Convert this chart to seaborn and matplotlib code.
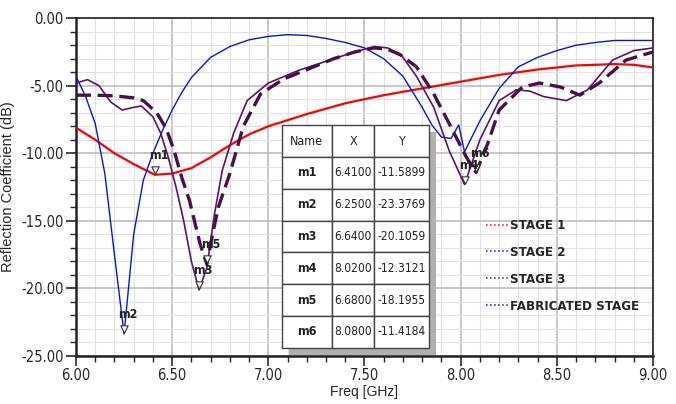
import numpy as np
import pandas as pd
import matplotlib
matplotlib.use("Agg")
import matplotlib.pyplot as plt
import matplotlib.transforms as mtrans
from matplotlib.lines import Line2D
from matplotlib.patches import Rectangle
from matplotlib.ticker import MultipleLocator, FormatStrFormatter
import seaborn as sns

# values
stage1_f = [6.00, 6.10, 6.20, 6.30, 6.41, 6.50, 6.60, 6.70, 6.80, 6.90, 7.00,
            7.20, 7.40, 7.60, 7.80, 8.00, 8.20, 8.40, 8.60, 8.80, 8.90, 9.00]
stage1_db = [-8.1, -9.0, -10.0, -10.8, -11.59, -11.5, -11.1, -10.3, -9.4, -8.6, -8.0,
             -7.1, -6.3, -5.7, -5.2, -4.7, -4.2, -3.8, -3.5, -3.4, -3.45, -3.65]

stage2_f = [6.00, 6.05, 6.10, 6.15, 6.20, 6.25, 6.30, 6.35, 6.40, 6.45, 6.50, 6.55,
            6.60, 6.70, 6.80, 6.90, 7.00, 7.10, 7.20, 7.30, 7.40, 7.50, 7.60, 7.70,
            7.80, 7.85, 7.90, 7.95, 7.99, 8.02, 8.10, 8.20, 8.30, 8.40, 8.50, 8.60,
            8.70, 8.80, 9.00]
stage2_db = [-4.3, -5.8, -7.8, -11.5, -17.5, -23.38, -16.0, -12.0, -10.0, -8.3, -6.8, -5.5,
             -4.4, -2.9, -2.1, -1.6, -1.35, -1.22, -1.28, -1.5, -1.8, -2.2, -3.0, -4.3,
             -6.6, -7.9, -8.8, -8.9, -7.9, -9.9, -7.6, -5.2, -3.6, -2.9, -2.4, -2.0,
             -1.8, -1.65, -1.65]

stage3_f = [6.00, 6.06, 6.12, 6.18, 6.24, 6.30, 6.34, 6.40, 6.44, 6.48, 6.52, 6.56,
            6.60, 6.64, 6.68, 6.72, 6.76, 6.82, 6.89, 7.00, 7.16, 7.34, 7.45, 7.55,
            7.62, 7.69, 7.77, 7.86, 7.94, 8.02, 8.10, 8.20, 8.29, 8.36, 8.43, 8.55,
            8.66, 8.79, 8.90, 9.00]
stage3_db = [-4.8, -4.55, -5.0, -6.2, -6.8, -6.6, -6.5, -7.3, -8.5, -10.3, -12.5, -15.0,
             -18.0, -20.11, -18.5, -14.5, -11.3, -8.5, -6.1, -4.8, -3.85, -3.0, -2.5, -2.1,
             -2.2, -2.7, -4.3, -6.6, -9.8, -12.31, -9.0, -6.1, -5.3, -5.4, -5.8, -6.1,
             -5.3, -3.1, -2.4, -2.2]

fab_f = [6.00, 6.10, 6.20, 6.30, 6.35, 6.42, 6.47, 6.51, 6.55, 6.59, 6.645, 6.68,
         6.71, 6.74, 6.80, 6.87, 6.96, 7.08, 7.34, 7.45, 7.55, 7.62, 7.685, 7.77,
         7.86, 7.94, 8.03, 8.08, 8.14, 8.20, 8.32, 8.41, 8.52, 8.62, 8.72, 8.86, 9.00]
fab_db = [-5.7, -5.7, -5.75, -5.9, -6.1, -7.0, -8.2, -9.8, -11.8, -13.5, -16.7, -18.2,
          -16.0, -14.0, -11.5, -8.0, -5.6, -4.5, -3.0, -2.5, -2.2, -2.3, -2.7, -3.6,
          -5.6, -7.8, -10.3, -11.42, -9.3, -6.8, -5.1, -4.8, -5.1, -5.7, -4.8, -3.1, -2.5]

marker_names = ["m1", "m2", "m3", "m4", "m5", "m6"]
marker_x = [6.41, 6.25, 6.64, 8.02, 6.68, 8.08]
marker_y = [-11.5899, -23.3769, -20.1059, -12.3121, -18.1955, -11.4184]

legend_labels = ["STAGE 1", "STAGE 2", "STAGE 3", "FABRICATED STAGE"]
colors = ["#ff0000", "#0a14e0", "#5a1468", "#461048"]

sns.set_style("whitegrid")
plt.rcParams["font.family"] = ["Liberation Sans", "DejaVu Sans"]
plt.rcParams["axes.unicode_minus"] = False
narrow = {"family": ["DejaVu Sans"], "stretch": "condensed"}

fig = plt.figure(figsize=(6.76, 4.04), dpi=100)
ax = fig.add_axes([0.1124, 0.119, 0.8536, 0.836])

curves = [(stage1_f, stage1_db, 1.6, "-"),
          (stage2_f, stage2_db, 1.0, "-"),
          (stage3_f, stage3_db, 1.2, "-"),
          (fab_f, fab_db, 2.4, (0, (4.5, 2)))]
for (f, db, lw, ls), c in zip(curves, colors):
    df = pd.DataFrame({"f": f, "db": db})
    sns.lineplot(data=df, x="f", y="db", ax=ax, color=c, linewidth=lw,
                 linestyle=ls, zorder=3)

# markers drawn with the tip on the point
tri = mtrans.offset_copy(ax.transData, fig=fig, x=0, y=3.5, units="points")
ax.scatter(marker_x, marker_y, marker="v", s=28, facecolor="white",
           edgecolor="#333333", linewidth=0.8, transform=tri, zorder=5)
for n, mx, my in zip(marker_names, marker_x, marker_y):
    ax.annotate(n, (mx, my), xytext=(-4, 9), textcoords="offset points",
                fontsize=9, fontweight="bold", color="#222222",
                ha="left", va="bottom", zorder=6, **narrow)

ax.set_xlim(6.0, 9.0)
ax.set_ylim(-25, 0)
ax.xaxis.set_major_locator(MultipleLocator(0.5))
ax.xaxis.set_minor_locator(MultipleLocator(0.1))
ax.yaxis.set_major_locator(MultipleLocator(5))
ax.yaxis.set_minor_locator(MultipleLocator(1))
ax.xaxis.set_major_formatter(FormatStrFormatter("%.2f"))
ax.yaxis.set_major_formatter(FormatStrFormatter("%.2f"))
ax.grid(which="major", color="#b8b8b8", linewidth=1.1)
ax.grid(which="minor", color="#e2e2e2", linewidth=0.8)
ax.tick_params(which="major", direction="out", length=7, width=1.2,
               left=True, bottom=True, labelsize=10.5, pad=2)
ax.tick_params(which="minor", direction="out", length=4, width=1.0,
               left=True, bottom=True)
for lab in ax.get_xticklabels() + ax.get_yticklabels():
    lab.set_family(narrow["family"])
    lab.set_fontstretch("condensed")
for s in ax.spines.values():
    s.set_color("#222222")
    s.set_linewidth(1.2)
ax.spines["left"].set_linewidth(1.8)
ax.spines["bottom"].set_linewidth(1.8)

ax.set_xlabel("Freq [GHz]", fontsize=10, labelpad=1)
ax.set_ylabel("Reflection Coefficient (dB)", fontsize=10.5, labelpad=4)

# marker table with a drop shadow
tx, ty, tw, th = 0.357, 0.024, 0.255, 0.659
ax.add_patch(Rectangle((tx + 0.012, ty - 0.02), tw, th, transform=ax.transAxes,
                       facecolor="#b0b0b0", edgecolor="none", zorder=6))
rows = [[n, f"{x:.4f}", f"{y:.4f}"] for n, x, y in zip(marker_names, marker_x, marker_y)]
tab = ax.table(cellText=rows, colLabels=["Name", "X", "Y"], cellLoc="center",
               colWidths=[50, 43, 55], bbox=[tx, ty, tw, th], zorder=7)
tab.auto_set_font_size(False)
for (r, c), cell in tab.get_celld().items():
    cell.set_edgecolor("#444444")
    cell.set_linewidth(1.0)
    cell.set_facecolor("white")
    cell.PAD = 0.02
    t = cell.get_text()
    t.set_fontsize(9 if (r == 0 or c == 0) else 8.6)
    t.set_family(narrow["family"])
    t.set_fontstretch("condensed")
    t.set_color("#222222")
    if c == 0 and r > 0:
        t.set_fontweight("bold")
tab.set_zorder(7)

handles = [Line2D([], [], color=c, linestyle=":", linewidth=1.1) for c in colors]
leg = ax.legend(handles, legend_labels, loc="upper left", bbox_to_anchor=(0.69, 0.44),
                frameon=False, handlelength=1.8, handletextpad=0.0, labelspacing=1.05,
                prop={"family": narrow["family"], "stretch": "condensed",
                      "size": 9.5, "weight": "bold"})
leg.set_zorder(8)

fig.savefig("out.png", dpi=100)
